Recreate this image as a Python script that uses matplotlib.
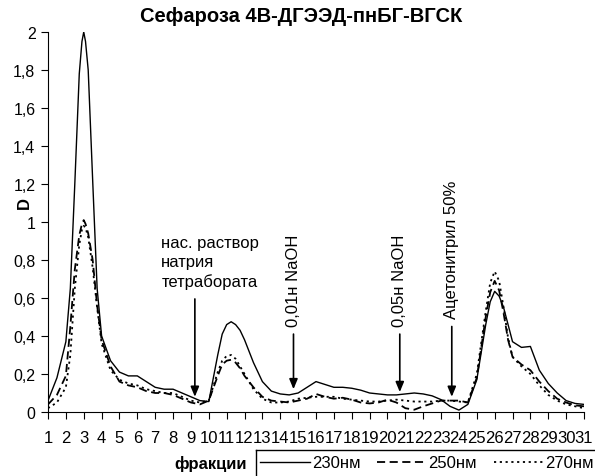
import matplotlib
matplotlib.use("Agg")
import matplotlib.pyplot as plt
from matplotlib.lines import Line2D

plt.rcParams["font.family"] = ["Liberation Sans", "DejaVu Sans"]

fractions = [1.0, 1.5, 2.0, 2.25, 2.5, 2.75, 2.9, 3.0, 3.1, 3.25, 3.5, 3.75, 4.0, 4.5,
             5.0, 5.5, 6.0, 6.5, 7.0, 7.5, 8.0, 8.5, 9.0, 9.5, 10.0,
             10.5, 10.75, 11.0, 11.25, 11.5, 11.75, 12.0, 12.5, 13.0, 13.5, 14.0, 14.5,
             15.0, 15.5, 16.0, 16.5, 17.0, 17.5, 18.0, 18.5, 19.0, 19.5, 20.0, 20.5,
             21.0, 21.5, 22.0, 22.5, 23.0, 23.5, 24.0, 24.5, 25.0, 25.5,
             25.75, 26.0, 26.25, 26.5, 26.75, 27.0, 27.5, 28.0, 28.5, 29.0, 29.5, 30.0, 30.5, 31.0]

d230 = [0.06, 0.18, 0.37, 0.65, 1.20, 1.78, 1.95, 2.00, 1.95, 1.80, 1.22, 0.65, 0.40, 0.27,
        0.21, 0.19, 0.19, 0.16, 0.13, 0.12, 0.12, 0.10, 0.08, 0.06, 0.055,
        0.30, 0.41, 0.46, 0.475, 0.46, 0.43, 0.38, 0.26, 0.16, 0.11, 0.095, 0.09,
        0.10, 0.13, 0.16, 0.145, 0.13, 0.13, 0.125, 0.115, 0.10, 0.095, 0.09, 0.09,
        0.095, 0.10, 0.095, 0.085, 0.065, 0.03, 0.01, 0.04, 0.17, 0.46,
        0.58, 0.635, 0.61, 0.55, 0.46, 0.37, 0.34, 0.345, 0.22, 0.15, 0.10, 0.06, 0.045, 0.04]

d250 = [0.04, 0.09, 0.19, 0.45, 0.75, 0.93, 0.99, 1.01, 0.99, 0.94, 0.80, 0.56, 0.38, 0.24,
        0.16, 0.14, 0.13, 0.11, 0.10, 0.10, 0.09, 0.07, 0.05, 0.04, 0.06,
        0.19, 0.25, 0.27, 0.275, 0.26, 0.23, 0.19, 0.13, 0.08, 0.06, 0.055, 0.05,
        0.06, 0.07, 0.095, 0.08, 0.07, 0.075, 0.065, 0.05, 0.045, 0.05, 0.065, 0.05,
        0.02, 0.012, 0.03, 0.045, 0.06, 0.06, 0.06, 0.05, 0.18, 0.50,
        0.63, 0.69, 0.64, 0.52, 0.38, 0.29, 0.25, 0.22, 0.16, 0.11, 0.07, 0.05, 0.035, 0.03]

d270 = [0.02, 0.05, 0.13, 0.30, 0.65, 0.88, 0.96, 0.98, 0.97, 0.92, 0.76, 0.55, 0.36, 0.22,
        0.17, 0.15, 0.14, 0.12, 0.11, 0.10, 0.10, 0.08, 0.06, 0.05, 0.06,
        0.21, 0.27, 0.295, 0.30, 0.28, 0.24, 0.20, 0.12, 0.07, 0.05, 0.05, 0.055,
        0.07, 0.075, 0.08, 0.08, 0.08, 0.07, 0.065, 0.06, 0.055, 0.055, 0.06, 0.065,
        0.06, 0.055, 0.055, 0.055, 0.06, 0.06, 0.055, 0.05, 0.20, 0.53,
        0.68, 0.74, 0.69, 0.55, 0.39, 0.29, 0.24, 0.20, 0.14, 0.09, 0.06, 0.04, 0.03, 0.02]

series_labels = ["230нм", "250нм", "270нм"]
xtick_values = list(range(1, 32))
ytick_values = [0, 0.2, 0.4, 0.6, 0.8, 1, 1.2, 1.4, 1.6, 1.8, 2]

# (text, arrow x, arrow tail y, arrow tip y)
markers = [
    ("0,01н NaOH", 14.74, 0.41, 0.12),
    ("0,05н NaOH", 20.69, 0.41, 0.105),
    ("Ацетонитрил 50%", 23.6, 0.45, 0.08),
]
borate_text = "нас. раствор\nнатрия\nтетрабората"
borate_arrow = (9.22, 0.595, 0.08)

W, H = 595, 477
fig = plt.figure(figsize=(W / 100, H / 100), dpi=100)
ax = fig.add_axes([48 / W, 1 - 413 / H, (584 - 48) / W, (413 - 33) / H])

ax.plot(fractions, d230, color="black", lw=1.0, solid_joinstyle="round",
        label=series_labels[0])
ax.plot(fractions, d250, color="black", lw=1.3, linestyle=(0, (4.5, 2.5)),
        dash_joinstyle="round", label=series_labels[1])
ax.plot(fractions, d270, color="black", lw=1.3, linestyle=(0, (1.2, 2)),
        dash_joinstyle="round", label=series_labels[2])

ax.set_xlim(1, 31)
ax.set_ylim(0, 2)
ax.set_xticks(xtick_values)
ax.set_xticklabels([str(v) for v in xtick_values], fontsize=12)
ax.set_yticks(ytick_values)
ax.set_yticklabels([("%g" % v).replace(".", ",") for v in ytick_values], fontsize=11.5)
ax.tick_params(axis="x", direction="out", length=5, pad=8)
ax.tick_params(axis="y", direction="out", length=5, pad=4)
ax.spines["top"].set_visible(False)
ax.spines["right"].set_visible(False)

arrow_style = dict(arrowstyle="-|>,head_length=0.6,head_width=0.25",
                   color="black", lw=1.2, shrinkA=0, shrinkB=0)

for text, x, tail, tip in markers:
    ax.annotate("", xy=(x, tip), xytext=(x, tail), arrowprops=arrow_style)
    ax.text(x, tail + 0.045, text, rotation=90, ha="center", va="bottom",
            fontsize=12)

bx, btail, btip = borate_arrow
ax.annotate("", xy=(bx, btip), xytext=(bx, btail), arrowprops=arrow_style)
ax.text(7.34, 0.93, borate_text, ha="left", va="top", fontsize=12,
        linespacing=1.3)

fig.text(301 / W, 1 - 17 / H, "Сефароза 4В-ДГЭЭД-пнБГ-ВГСК", ha="center",
         va="center", fontsize=14.5, fontweight="bold")
fig.text(24 / W, 1 - 203 / H, "D", rotation=90, ha="center", va="center",
         fontsize=12, fontweight="bold")
fig.text(247 / W, 1 - 464 / H, "фракции", ha="right", va="center",
         fontsize=12, fontweight="bold")

fig.add_artist(Line2D([256 / W, 1], [1 - 451 / H, 1 - 451 / H],
                      transform=fig.transFigure, color="black", lw=1))
fig.add_artist(Line2D([256 / W, 256 / W], [1 - 451 / H, 0],
                      transform=fig.transFigure, color="black", lw=1))

handles, labels = ax.get_legend_handles_labels()
fig.legend(handles, labels, loc="center left",
           bbox_to_anchor=(260 / W, 1 - 464 / H), ncol=3, frameon=False,
           fontsize=12, handlelength=3.0, handletextpad=0.1,
           columnspacing=1.0, borderaxespad=0, borderpad=0)

fig.savefig("out.png", dpi=100)
plt.close(fig)
